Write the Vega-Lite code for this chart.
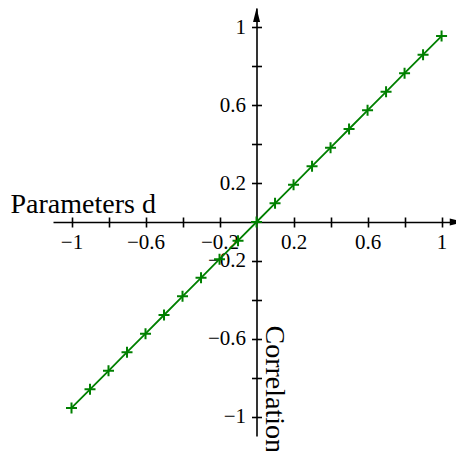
{
  "$schema": "https://vega.github.io/schema/vega-lite/v6.json",
  "autosize": {"type": "none"},
  "padding": {"left": 53, "top": 8, "right": 0, "bottom": 15},
  "width": 403,
  "height": 428,
  "background": "white",
  "config": {
    "view": {"stroke": null},
    "axis": {
      "domainColor": "black",
      "domainWidth": 1.6,
      "tickColor": "black",
      "tickWidth": 1.6,
      "tickSize": 5,
      "grid": false,
      "labelFont": "Liberation Serif",
      "labelFontSize": 21,
      "labelColor": "black",
      "labelFlush": false,
      "labelOverlap": false,
      "labelBound": false,
      "titleFont": "Liberation Serif",
      "titleFontSize": 28,
      "titleFontWeight": "normal",
      "titleColor": "black"
    }
  },
  "datasets": {
    "curve": [
      {"d": -1.0, "corr": -0.956},
      {"d": -0.9, "corr": -0.860},
      {"d": -0.8, "corr": -0.765},
      {"d": -0.7, "corr": -0.669},
      {"d": -0.6, "corr": -0.574},
      {"d": -0.5, "corr": -0.478},
      {"d": -0.4, "corr": -0.382},
      {"d": -0.3, "corr": -0.287},
      {"d": -0.2, "corr": -0.191},
      {"d": -0.1, "corr": -0.096},
      {"d": 0.0, "corr": 0.0},
      {"d": 0.1, "corr": 0.096},
      {"d": 0.2, "corr": 0.191},
      {"d": 0.3, "corr": 0.287},
      {"d": 0.4, "corr": 0.382},
      {"d": 0.5, "corr": 0.478},
      {"d": 0.6, "corr": 0.574},
      {"d": 0.7, "corr": 0.669},
      {"d": 0.8, "corr": 0.765},
      {"d": 0.9, "corr": 0.860},
      {"d": 1.0, "corr": 0.956}
    ],
    "xArrow": [{"d": 1.12, "corr": 0}],
    "yArrow": [{"d": 0, "corr": 1.1}]
  },
  "resolve": {"axis": {"x": "independent", "y": "independent"}},
  "layer": [
    {
      "data": {"name": "curve"},
      "mark": {"type": "line", "color": "#008000", "strokeWidth": 1.8},
      "encoding": {
        "x": {
          "field": "d",
          "type": "quantitative",
          "scale": {"domain": [-1.1, 1.078], "nice": false, "zero": false},
          "axis": {
            "orient": "bottom",
            "offset": -214,
            "values": [-1, -0.8, -0.6, -0.4, -0.2, 0.2, 0.4, 0.6, 0.8, 1],
            "format": "~g",
            "labelExpr": "abs(datum.value) == 0.4 || abs(datum.value) == 0.8 ? '' : datum.label",
            "labelPadding": 4,
            "title": "Parameters d",
            "titleAnchor": null,
            "titleAlign": "left",
            "titleBaseline": "alphabetic",
            "titleAngle": 0,
            "titleX": -43,
            "titleY": -9.5
          }
        },
        "y": {
          "field": "corr",
          "type": "quantitative",
          "scale": {"domain": [-1.1, 1.1], "nice": false, "zero": false},
          "axis": {
            "orient": "left",
            "offset": -203.5,
            "values": [-1, -0.8, -0.6, -0.4, -0.2, 0.2, 0.4, 0.6, 0.8, 1],
            "format": "~g",
            "labelExpr": "abs(datum.value) == 0.4 || abs(datum.value) == 0.8 ? '' : datum.label",
            "labelPadding": 6,
            "labelAlign": "right",
            "labelBaseline": "middle",
            "title": "Correlation",
            "titleAnchor": null,
            "titleAlign": "left",
            "titleBaseline": "alphabetic",
            "titleAngle": 90,
            "titleX": 8.5,
            "titleY": 317
          }
        }
      }
    },
    {
      "data": {"name": "curve"},
      "mark": {
        "type": "point",
        "shape": "M-1,0H1M0,-1V1",
        "filled": false,
        "size": 121,
        "stroke": "#008000",
        "strokeWidth": 2,
        "opacity": 1
      },
      "encoding": {
        "x": {
          "field": "d",
          "type": "quantitative",
          "axis": {
            "orient": "top",
            "offset": -214,
            "values": [-1, -0.8, -0.6, -0.4, -0.2, 0.2, 0.4, 0.6, 0.8, 1],
            "labels": false,
            "domain": false,
            "title": null
          }
        },
        "y": {
          "field": "corr",
          "type": "quantitative",
          "axis": {
            "orient": "right",
            "offset": -199.5,
            "values": [-1, -0.8, -0.6, -0.4, -0.2, 0.2, 0.4, 0.6, 0.8, 1],
            "labels": false,
            "domain": false,
            "title": null
          }
        }
      }
    },
    {
      "data": {"name": "xArrow"},
      "mark": {
        "type": "point",
        "shape": "M0,0L-2,-0.5L-2,0.5Z",
        "filled": true,
        "size": 196,
        "color": "black",
        "opacity": 1,
        "strokeWidth": 0
      },
      "encoding": {
        "x": {"field": "d", "type": "quantitative", "axis": null},
        "y": {"field": "corr", "type": "quantitative", "axis": null}
      }
    },
    {
      "data": {"name": "yArrow"},
      "mark": {
        "type": "point",
        "shape": "M0,0L-0.5,2L0.5,2Z",
        "filled": true,
        "size": 196,
        "color": "black",
        "opacity": 1,
        "strokeWidth": 0
      },
      "encoding": {
        "x": {"field": "d", "type": "quantitative", "axis": null},
        "y": {"field": "corr", "type": "quantitative", "axis": null}
      }
    }
  ]
}
